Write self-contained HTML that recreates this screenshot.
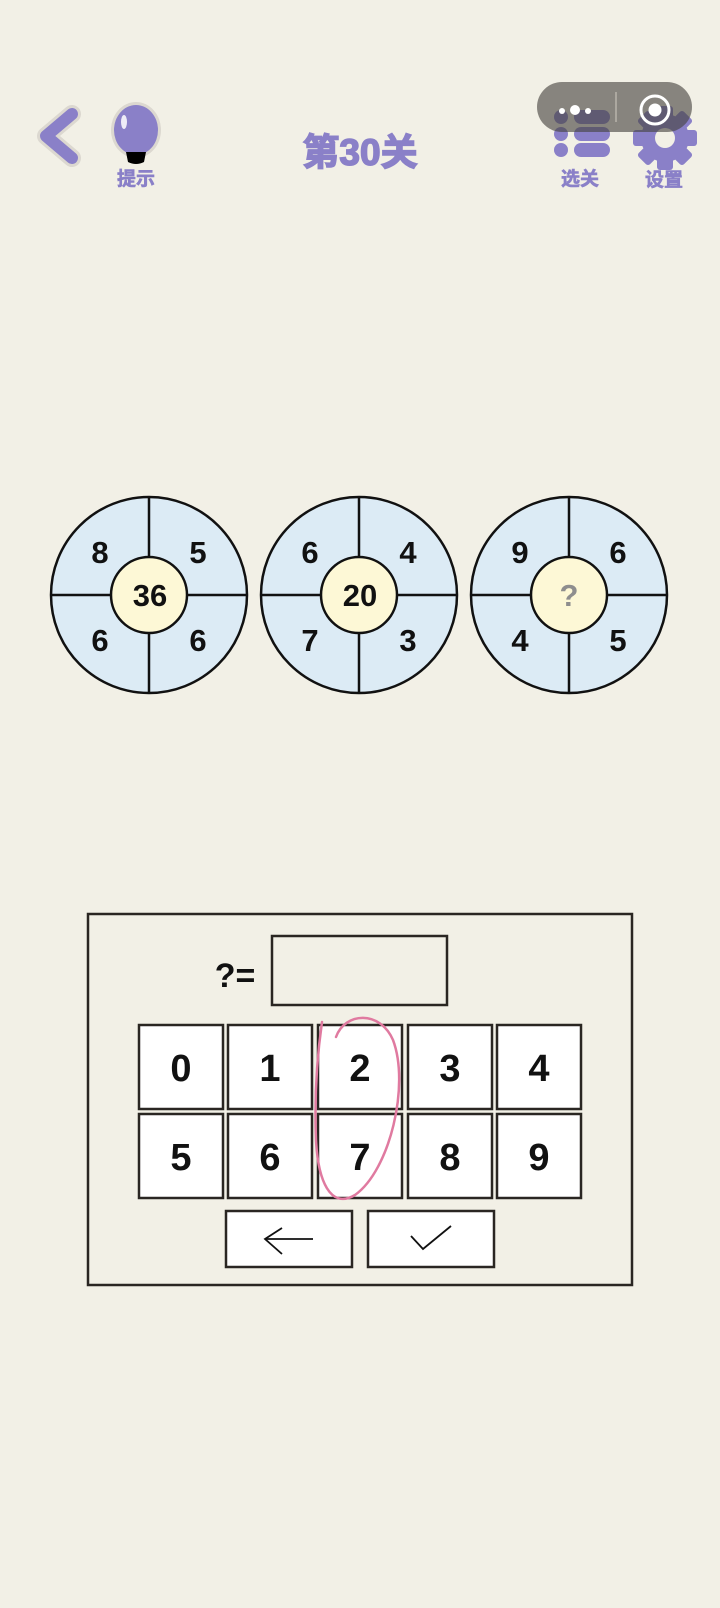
<!DOCTYPE html>
<html><head><meta charset="utf-8"><style>
html,body{margin:0;padding:0;background:#f2f0e6;}
body{width:720px;height:1608px;overflow:hidden;position:relative;}
svg{position:absolute;left:0;top:0;}
text{font-family:"Liberation Sans","Noto Sans CJK SC",sans-serif;font-weight:bold;}
</style></head><body>
<svg width="720" height="1608" viewBox="0 0 720 1608">
<polyline points="72,114 46,136 72,158" fill="none" stroke="#dcd8d0" stroke-width="18" stroke-linecap="round" stroke-linejoin="round"/>
<polyline points="72,114 46,136 72,158" fill="none" stroke="#8a80c8" stroke-width="12" stroke-linecap="round" stroke-linejoin="round"/>
<ellipse cx="136" cy="130" rx="25" ry="28" fill="#dcd8d0"/>
<ellipse cx="136" cy="130" rx="22" ry="25" fill="#8a80c8"/>
<ellipse cx="124" cy="122" rx="3" ry="7" fill="#fff" opacity="0.85"/>
<path d="M126 152 L146 152 L144 162 Q136 166 128 162 Z" fill="#000"/>
<text x="136" y="185" font-size="19" fill="#8a80c8" stroke="#8a80c8" stroke-width="0.6" text-anchor="middle">提示</text>
<text x="360" y="165" font-size="37" fill="#8a80c8" stroke="#8a80c8" stroke-width="1.5" text-anchor="middle">第30关</text>
<g fill="#8a80c8">
<circle cx="561" cy="117" r="7"/><rect x="574" y="110" width="36" height="14" rx="7"/>
<circle cx="561" cy="134" r="7"/><rect x="574" y="127" width="36" height="14" rx="7"/>
<circle cx="561" cy="150" r="7"/><rect x="574" y="143" width="36" height="14" rx="7"/>
</g>
<text x="580" y="185" font-size="19" fill="#8a80c8" stroke="#8a80c8" stroke-width="0.6" text-anchor="middle">选关</text>
<g fill="#8a80c8">
<circle cx="665" cy="138" r="24"/>
<rect x="657" y="106" width="16" height="64" rx="3"/>
<rect x="633" y="130" width="64" height="16" rx="3"/>
<rect x="657" y="106" width="16" height="64" rx="3" transform="rotate(45 665 138)"/>
<rect x="657" y="106" width="16" height="64" rx="3" transform="rotate(-45 665 138)"/>
</g>
<circle cx="665" cy="138" r="10" fill="#f2f0e6"/>
<text x="664" y="186" font-size="19" fill="#8a80c8" stroke="#8a80c8" stroke-width="0.6" text-anchor="middle">设置</text>
<rect x="537" y="82" width="155" height="50" rx="25" fill="rgba(70,66,62,0.62)"/>
<line x1="616" y1="92" x2="616" y2="122" stroke="#b8b4ac" stroke-width="1.5"/>
<circle cx="562" cy="111" r="3" fill="#fff"/><circle cx="575" cy="110" r="5" fill="#fff"/><circle cx="588" cy="111" r="3" fill="#fff"/>
<circle cx="655" cy="110" r="14" fill="none" stroke="#fff" stroke-width="3"/>
<circle cx="655" cy="110" r="6.5" fill="#fff"/>
<g stroke="#111" stroke-width="2.5">
<circle cx="149" cy="595" r="98" fill="#dcebf5"/>
<line x1="51" y1="595" x2="247" y2="595"/><line x1="149" y1="497" x2="149" y2="693"/>
<circle cx="149" cy="595" r="38" fill="#fdf8d6"/>
<circle cx="359" cy="595" r="98" fill="#dcebf5"/>
<line x1="261" y1="595" x2="457" y2="595"/><line x1="359" y1="497" x2="359" y2="693"/>
<circle cx="359" cy="595" r="38" fill="#fdf8d6"/>
<circle cx="569" cy="595" r="98" fill="#dcebf5"/>
<line x1="471" y1="595" x2="667" y2="595"/><line x1="569" y1="497" x2="569" y2="693"/>
<circle cx="569" cy="595" r="38" fill="#fdf8d6"/>
</g>
<g font-size="31" fill="#111" text-anchor="middle">
<text x="100" y="563">8</text><text x="198" y="563">5</text><text x="100" y="651">6</text><text x="198" y="651">6</text>
<text x="150" y="606">36</text>
<text x="310" y="563">6</text><text x="408" y="563">4</text><text x="310" y="651">7</text><text x="408" y="651">3</text>
<text x="360" y="606">20</text>
<text x="520" y="563">9</text><text x="618" y="563">6</text><text x="520" y="651">4</text><text x="618" y="651">5</text>
<text x="569" y="606" fill="#8e8e8e">?</text>
</g>
<rect x="88" y="914" width="544" height="371" fill="none" stroke="#2a2622" stroke-width="2.5"/>
<text x="235" y="987" font-size="34" fill="#111" text-anchor="middle">?=</text>
<rect x="272" y="936" width="175" height="69" fill="none" stroke="#2a2622" stroke-width="2.5"/>
<g stroke="#2a2622" stroke-width="2.5" fill="#fff">
<rect x="139" y="1025" width="84" height="84"/><rect x="228" y="1025" width="84" height="84"/><rect x="318" y="1025" width="84" height="84"/><rect x="408" y="1025" width="84" height="84"/><rect x="497" y="1025" width="84" height="84"/>
<rect x="139" y="1114" width="84" height="84"/><rect x="228" y="1114" width="84" height="84"/><rect x="318" y="1114" width="84" height="84"/><rect x="408" y="1114" width="84" height="84"/><rect x="497" y="1114" width="84" height="84"/>
<rect x="226" y="1211" width="126" height="56"/><rect x="368" y="1211" width="126" height="56"/>
</g>
<g font-size="38" fill="#111" text-anchor="middle">
<text x="181" y="1081">0</text><text x="270" y="1081">1</text><text x="360" y="1081">2</text><text x="450" y="1081">3</text><text x="539" y="1081">4</text>
<text x="181" y="1170">5</text><text x="270" y="1170">6</text><text x="360" y="1170">7</text><text x="450" y="1170">8</text><text x="539" y="1170">9</text>
</g>
<polyline points="282,1228 265,1239 282,1254" fill="none" stroke="#111" stroke-width="1.8"/>
<line x1="265" y1="1239" x2="313" y2="1239" stroke="#111" stroke-width="1.8"/>
<polyline points="411,1236 423,1249 451,1226" fill="none" stroke="#111" stroke-width="1.8"/>
<path d="M336 1037 C345 1012 380 1010 393 1040 C410 1085 390 1170 355 1195 C330 1210 318 1180 316 1140 C314 1090 318 1050 322 1022" fill="none" stroke="#e07aa0" stroke-width="2.5" stroke-linecap="round"/>
</svg>
</body></html>
